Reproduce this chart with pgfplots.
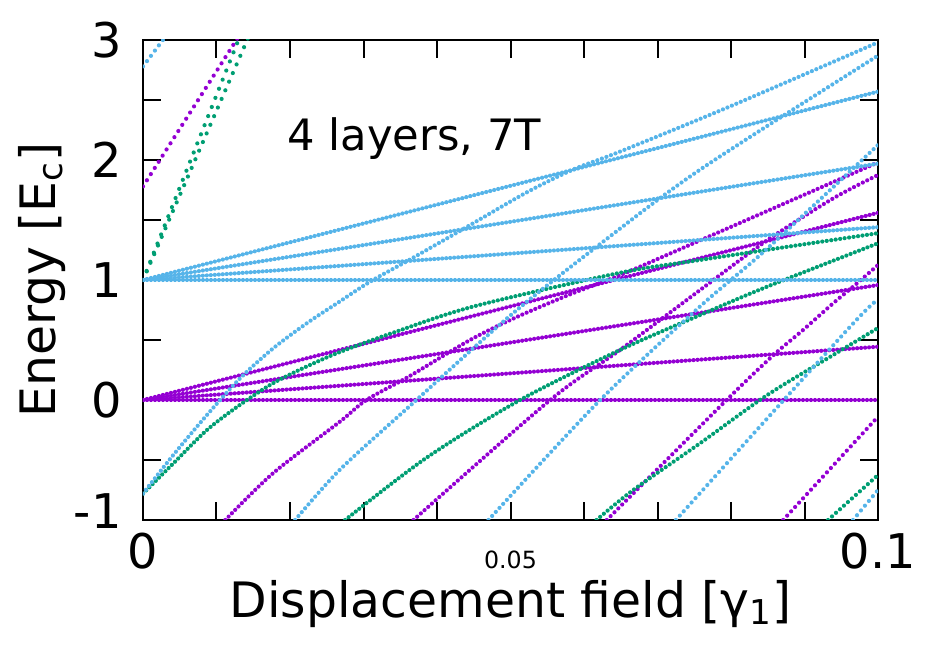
\documentclass[border=0pt]{standalone}
\usepackage{fontspec}
\setmainfont{DejaVu Sans}
\usepackage{pgfplots}
\pgfplotsset{compat=1.18}
\definecolor{cb}{RGB}{86,180,233}
\definecolor{cp}{RGB}{148,0,211}
\definecolor{cg}{RGB}{0,158,115}
\tikzset{dots/.style={line width=2.1bp, line cap=round, dash pattern=on 0pt off #1}}
\begin{document}
\begin{tikzpicture}
\path[use as bounding box] (-71.5bp,-63.5bp) rectangle (391bp,260bp);
\begin{axis}[
  at={(0,0)}, anchor=south west,
  scale only axis, width=367.5bp, height=240bp,
  xmin=0, xmax=0.1, ymin=-1, ymax=3,
  xtick={0,0.01,0.02,0.03,0.04,0.05,0.06,0.07,0.08,0.09,0.1},
  xticklabels={0,,,,,{\fontsize{11.9}{11.9}\selectfont 0.05},,,,,0.1},
  ytick={-1,0,1,2,3},
  yticklabels={\raisebox{4.7bp}{-1},0,1,2,3},
  minor ytick={-0.5,0.5,1.5,2.5},
  axis line style={line width=1.2bp},
  every tick/.style={black, line width=1bp},
  major tick length=9bp, minor tick length=9bp,
  tick align=inside,
  xticklabel style={font=\fontsize{24}{24}\selectfont, anchor=base, inner sep=0pt, yshift=-24bp},
  yticklabel style={font=\fontsize{24}{24}\selectfont, anchor=base east, inner sep=0pt, xshift=-10.5bp, yshift=-8.75bp},
  xlabel={Displacement field [γ\textsubscript{1}]},
  ylabel={Energy [E\textsubscript{c}]},
  every axis x label/.style={at={(axis description cs:0.5,-0.2021)}, anchor=base, inner sep=0pt, font=\fontsize{24.5}{24.5}\selectfont},
  every axis y label/.style={at={(axis description cs:-0.1197,0.5)}, anchor=base, rotate=90, inner sep=0pt, font=\fontsize{24.5}{24.5}\selectfont},
]
% purple
\addplot[cp, dots=2.0bp] coordinates {(0,0) (0.1,0)};
\addplot[cp, dots=2.0bp] coordinates {(0,0) (0.1,0.444)};
\addplot[cp, dots=2.02bp] coordinates {(0,0) (0.1,0.958)};
\addplot[cp, dots=2.06bp] coordinates {(0,0) (0.1,1.56)};
\addplot[cp, dots=3.65bp] coordinates {(0,1.78) (0.0135,3.076)};
\addplot[cp, dots=2.36bp, smooth] coordinates {(0.0112,-1) (0.0177,-0.61) (0.0268,-0.18) (0.0304,0) (0.0363,0.2) (0.0445,0.5) (0.0508,0.69) (0.0585,0.89) (0.0649,1.04) (0.0758,1.33) (0.1,1.98)};
\addplot[cp, dots=2.47bp, smooth] coordinates {(0.0368,-1) (0.0554,0) (0.0649,0.417) (0.0758,0.917) (0.0849,1.33) (0.0939,1.68) (0.1,1.875)};
\addplot[cp, dots=2.73bp, smooth] coordinates {(0.0631,-1) (0.0794,0) (0.0858,0.375) (0.0898,0.583) (0.0939,0.806) (0.0971,0.97) (0.1,1.125)};
\addplot[cp, dots=2.94bp] coordinates {(0.0871,-1) (0.1,-0.139)};
% green
\addplot[cg, dots=4.9bp] coordinates {(0,1) (0.0135,3.08)};
\addplot[cg, dots=4.7bp] coordinates {(0,1) (0.0146,3.06)};
\addplot[cg, dots=2.26bp, smooth] coordinates {(0,-0.78) (0.0041,-0.53) (0.0087,-0.25) (0.0132,-0.04) (0.0177,0.14) (0.0223,0.28) (0.0268,0.40) (0.0340,0.56) (0.045,0.78) (0.0649,1.06) (0.0758,1.167) (0.1,1.39)};
\addplot[cg, dots=2.26bp, smooth] coordinates {(0.0275,-1) (0.0386,-0.48) (0.0513,0) (0.0649,0.417) (0.0758,0.708) (0.0849,0.944) (0.1,1.306)};
\addplot[cg, dots=2.42bp, smooth] coordinates {(0.0617,-1) (0.0667,-0.75) (0.0758,-0.36) (0.0849,0.04) (0.0939,0.375) (0.1,0.6)};
\addplot[cg, dots=2.68bp] coordinates {(0.0932,-1) (0.1,-0.625)};
% blue
\addplot[cb, dots=2.0bp] coordinates {(0,1) (0.1,1)};
\addplot[cb, dots=2.0bp] coordinates {(0,1) (0.1,1.44)};
\addplot[cb, dots=2.02bp] coordinates {(0,1) (0.1,1.97)};
\addplot[cb, dots=2.06bp] coordinates {(0,1) (0.1,2.57)};
\addplot[cb, dots=3.3bp] coordinates {(0,2.78) (0.0035,3.064)};
\addplot[cb, dots=2.42bp, smooth] coordinates {(0,-0.78) (0.0041,-0.46) (0.0087,-0.125) (0.0132,0.18) (0.0177,0.43) (0.0223,0.64) (0.0264,0.806) (0.0309,0.986) (0.0363,1.17) (0.044,1.44) (0.0522,1.73) (0.0585,1.92) (0.0649,2.07) (0.08,2.45) (0.1,2.98)};
\addplot[cb, dots=2.57bp, smooth] coordinates {(0.0207,-1) (0.0268,-0.58) (0.0363,-0.05) (0.0499,0.7) (0.0622,1.3) (0.0758,1.92) (0.1,2.87)};
\addplot[cb, dots=2.73bp, smooth] coordinates {(0.047,-1) (0.0622,0) (0.0758,0.78) (0.0849,1.26) (0.1,2.125)};
\addplot[cb, dots=2.94bp, smooth] coordinates {(0.0725,-1) (0.0962,0.61) (0.1,0.83)};
\addplot[cb, dots=3.1bp] coordinates {(0.0966,-1) (0.1,-0.75)};
\node[anchor=base west, inner sep=0pt, font=\fontsize{21.7}{21.7}\selectfont] at (axis cs:0.0196,2.083) {4 layers, 7T};
\end{axis}
\end{tikzpicture}
\end{document}
